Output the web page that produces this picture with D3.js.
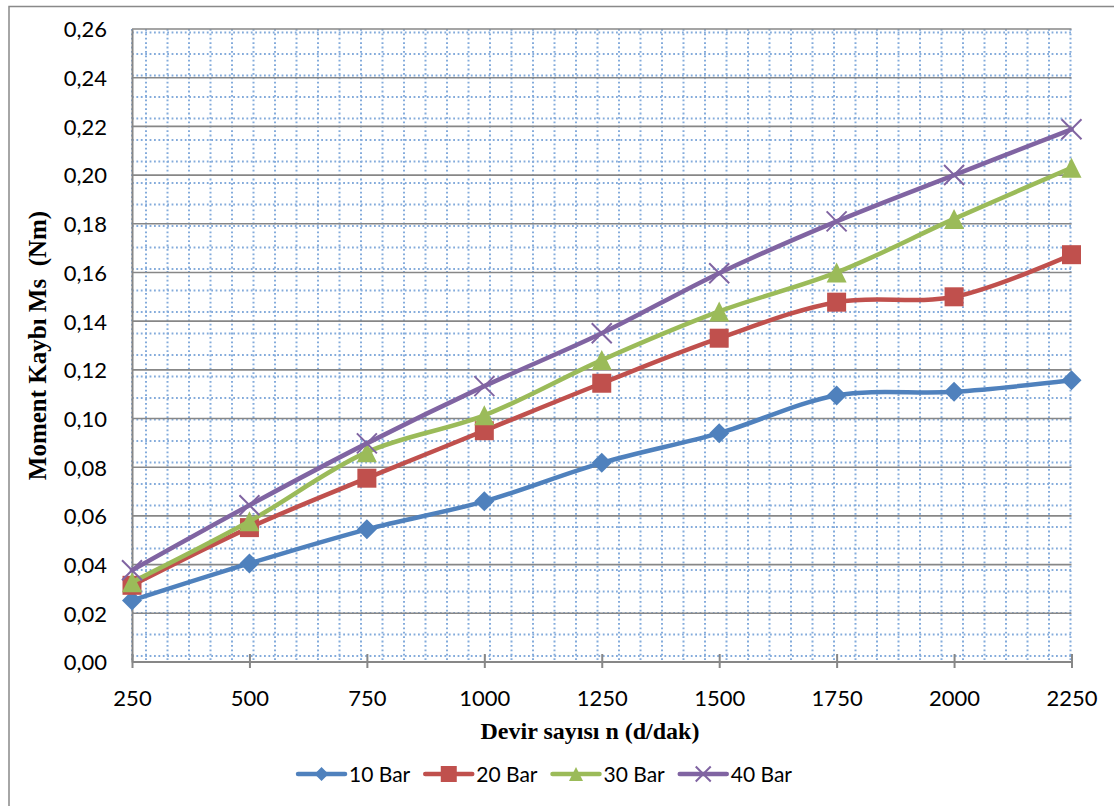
<!DOCTYPE html>
<html>
<head>
<meta charset="utf-8">
<script src="https://cdn.jsdelivr.net/npm/d3@7"></script>
<style>
  html, body { margin: 0; padding: 0; background: #ffffff; }
  svg { display: block; }
</style>
</head>
<body>
<svg id="chart" width="1114" height="806"></svg>
<script>
// ---- data ----
const categories = [250, 500, 750, 1000, 1250, 1500, 1750, 2000, 2250];
const seriesNames = ["10 Bar", "20 Bar", "30 Bar", "40 Bar"];
const bar10 = [0.0253, 0.0405, 0.0545, 0.0660, 0.0818, 0.0940, 0.1095, 0.1110, 0.1157];
const bar20 = [0.0315, 0.0552, 0.0755, 0.0950, 0.1145, 0.1330, 0.1478, 0.1500, 0.1673];
const bar30 = [0.0328, 0.0578, 0.0862, 0.1013, 0.1240, 0.1440, 0.1600, 0.1820, 0.2030];
const bar40 = [0.0377, 0.0644, 0.0898, 0.1133, 0.1350, 0.1597, 0.1810, 0.2000, 0.2188];
const yTickValues = [0, 0.02, 0.04, 0.06, 0.08, 0.10, 0.12, 0.14, 0.16, 0.18, 0.20, 0.22, 0.24, 0.26];
const yTitle = "Moment Kaybı Ms  (Nm)";
const xTitle = "Devir sayısı n (d/dak)";

const seriesValues = [bar10, bar20, bar30, bar40];
const colors = ["#4F81BD", "#C0504D", "#9BBB59", "#8064A2"];
const markers = ["diamond", "square", "triangle", "x"];

// ---- layout ----
const svg = d3.select("#chart");
const plot = { left: 132, right: 1071.5, top: 29, bottom: 662 };

const x = d3.scalePoint().domain(categories).range([plot.left, plot.right]);
const y = d3.scaleLinear().domain([0, 0.26]).range([plot.bottom, plot.top]);

// outer chart border (cropped at right/bottom)
svg.append("rect")
  .attr("x", 9).attr("y", 6.5).attr("width", 1200).attr("height", 900)
  .attr("fill", "none").attr("stroke", "#898989").attr("stroke-width", 1.5);

// plot-area dotted pattern
const patStep = 21.5;
const gPat = svg.append("g")
  .attr("stroke", "#5b8fd0").attr("stroke-width", 2)
  .attr("stroke-dasharray", "1.8,2.6").attr("opacity", 0.75);
const vx = [plot.left].concat(d3.range(plot.left + 14, plot.right + 1, patStep));
gPat.selectAll("line.v").data(vx).join("line")
  .attr("x1", d => d).attr("x2", d => d)
  .attr("y1", plot.top).attr("y2", plot.bottom);
const hy = d3.range(plot.bottom - 6, plot.top, -patStep);
gPat.selectAll("line.h").data(hy).join("line")
  .attr("x1", plot.left).attr("x2", plot.right)
  .attr("y1", d => d).attr("y2", d => d);

// major gridlines
svg.append("g").selectAll("line").data(yTickValues).join("line")
  .attr("x1", plot.left).attr("x2", plot.right)
  .attr("y1", d => y(d)).attr("y2", d => y(d))
  .attr("stroke", "#878787").attr("stroke-width", 1.6);

// axes
const yAxis = d3.axisLeft(y).tickValues(yTickValues).tickSize(0).tickPadding(25)
  .tickFormat(d => d3.format(".2f")(d).replace(".", ","));
const gy = svg.append("g").attr("transform", `translate(${plot.left},0)`).call(yAxis);
gy.select(".domain").attr("stroke", "#878787").attr("stroke-width", 2);
gy.selectAll("text").attr("font-family", "Lato, 'Open Sans', sans-serif")
  .attr("font-size", 22).attr("fill", "#000").attr("dy", "0.36em");

const xAxis = d3.axisBottom(x).tickSize(6).tickPadding(22);
const gx = svg.append("g").attr("transform", `translate(0,${plot.bottom})`).call(xAxis);
gx.select(".domain").attr("stroke", "#878787").attr("stroke-width", 2).attr("d", `M${plot.left},0H${plot.right}`);
gx.selectAll(".tick line").attr("stroke", "#878787").attr("stroke-width", 2).attr("y1", -8);
gx.selectAll("text").attr("font-family", "Lato, 'Open Sans', sans-serif")
  .attr("font-size", 22).attr("fill", "#000");

// axis titles
svg.append("text")
  .attr("transform", `translate(46,${(plot.top + plot.bottom) / 2}) rotate(-90)`)
  .attr("text-anchor", "middle")
  .style("white-space", "pre")
  .attr("font-family", "'Liberation Serif', 'Times New Roman', serif")
  .attr("font-weight", "bold").attr("font-size", 25).text(yTitle);
svg.append("text")
  .attr("x", 590).attr("y", 739).attr("text-anchor", "middle")
  .attr("font-family", "'Liberation Serif', 'Times New Roman', serif")
  .attr("font-weight", "bold").attr("font-size", 24).text(xTitle);

// marker drawing
function drawMarker(g, type, color, s) {
  if (type === "diamond") {
    g.append("path").attr("d", `M0,${-s/2}L${s/2},0L0,${s/2}L${-s/2},0Z`).attr("fill", color);
  } else if (type === "square") {
    g.append("rect").attr("x", -s/2).attr("y", -s/2).attr("width", s).attr("height", s).attr("fill", color);
  } else if (type === "triangle") {
    g.append("path").attr("d", `M0,${-s/2}L${s/2},${s/2}L${-s/2},${s/2}Z`).attr("fill", color);
  } else {
    const h = s / 2;
    g.append("path").attr("d", `M${-h},${-h}L${h},${h}M${-h},${h}L${h},${-h}`)
      .attr("stroke", color).attr("stroke-width", 2).attr("fill", "none");
  }
}

// series
const line = d3.line().x(d => x(d.c)).y(d => y(d.v)).curve(d3.curveCatmullRom.alpha(0.5));
const msize = [20, 19, 20, 20];
seriesValues.forEach((vals, i) => {
  const pts = vals.map((v, j) => ({ c: categories[j], v }));
  const g = svg.append("g");
  g.append("path").datum(pts).attr("d", line)
    .attr("fill", "none").attr("stroke", colors[i]).attr("stroke-width", 4.5)
    .attr("stroke-linejoin", "round").attr("stroke-linecap", "round");
  pts.forEach(p => {
    const mg = g.append("g").attr("transform", `translate(${x(p.c)},${y(p.v)})`);
    drawMarker(mg, markers[i], colors[i], msize[i]);
  });
});

// legend
const legendY = 774;
const lg = svg.append("g");
const items = [];
let cursor = 0;
seriesNames.forEach((name, i) => {
  const it = lg.append("g");
  it.append("line").attr("x1", 0).attr("x2", 47).attr("y1", 0).attr("y2", 0)
    .attr("stroke", colors[i]).attr("stroke-width", 4.5).attr("stroke-linecap", "round");
  const mg = it.append("g").attr("transform", "translate(23.5,0)");
  drawMarker(mg, markers[i], colors[i], [14, 16, 14, 15][i]);
  const t = it.append("text").attr("x", 51).attr("y", 0).attr("dy", "0.36em")
    .attr("font-family", "Lato, 'Open Sans', sans-serif").attr("font-size", 21).text(name);
  const w = 51 + t.node().getComputedTextLength();
  items.push({ it, off: cursor });
  cursor += w + 15;
});
const total = cursor - 15;
const startX = 545 - total / 2;
items.forEach(o => o.it.attr("transform", `translate(${startX + o.off},${legendY})`));
</script>
</body>
</html>
